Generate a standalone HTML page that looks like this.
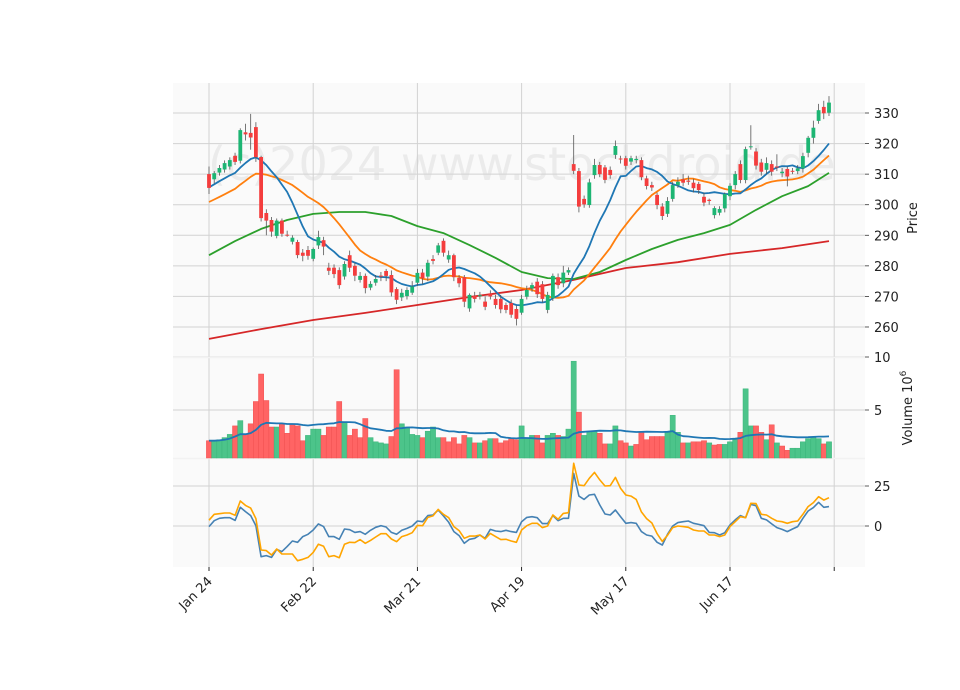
<!DOCTYPE html>
<html><head><meta charset="utf-8"><style>
body{margin:0;background:#fff}
svg{display:block;font-family:"DejaVu Sans","Liberation Sans",sans-serif}
</style></head><body>
<svg id="chart" width="960" height="690" viewBox="0 0 960 690">
<rect x="173" y="83" width="692" height="484" fill="#fafafa"/>
<text x="208" y="180" font-size="46" fill="#ebebeb">(c)2024 www.stockdroid.de</text>
<g id="grid"></g>
<g id="marks"></g>
<g id="axes"></g>
<text transform="translate(917,218) rotate(-90)" text-anchor="middle" font-size="13" fill="#222">Price</text>
<text transform="translate(912,408) rotate(-90)" text-anchor="middle" font-size="13" fill="#222">Volume  10<tspan dy="-6" font-size="9">6</tspan></text>
</svg>
<script>
const tickLabels=["Jan 24","Feb 22","Mar 21","Apr 19","May 17","Jun 17",""];
const tickIdx=[0,20,40,60,80,100,120];
const opens=[310,308.3,310.5,311.5,312.5,316,314.4,323.7,323.5,325.4,315.6,297.3,295,289.8,294.8,290.2,287.9,287.8,284.3,285.2,282.3,286.7,288.4,279.4,279.4,278.6,276.5,283.5,280,275.4,276.7,272.9,274.5,276.8,278.3,277,272.4,269.7,270.1,271.2,274.5,277.8,276.5,282.2,284.3,288.2,282.1,283.5,276.1,276.3,266.1,270.2,270.2,268.3,271,269.2,269.2,267.2,267.8,265.9,264.7,269.9,272.6,274.8,274,265.6,269.4,276.3,274.3,277.8,313.3,311,301.9,299.9,309.7,313,312.2,311.4,316.3,315.1,315.2,314.1,314.6,314.6,308.6,306.4,303.2,299.4,297,301.9,306.4,308.3,307.9,307.2,306.8,302.6,301.6,296.6,297.4,298.8,302.8,306.4,313.3,308.1,318.8,317.4,313.8,311.4,313.3,312.5,310.3,311.7,311.1,311,311.9,317,321.9,327.4,332,330.1];
const closes=[305.5,310.3,312,313.6,314.6,314,324.4,323,322,315.6,295.6,294.8,291.2,294.8,290.5,290,289.2,283.5,283.3,283.3,285.5,289.4,286.3,278.4,277.3,273.7,280.6,279.4,276.8,276.7,272.7,274.1,275.7,276.5,276.7,271.3,268.9,271.2,272.1,273.2,277.7,275.9,281,281.6,286.7,284.3,283.5,276.3,274.3,268.3,270.5,269.2,270.4,266.6,270,267.2,265.8,265.6,264,262.7,269.2,272.1,273.7,270.7,269.2,270.5,276.7,273.7,277.8,278.6,311.1,299.4,300.1,307.3,313,310,308.1,309.7,319.2,314.9,312.7,315.2,315,309,306.1,305.6,299.9,296.3,301.2,306.4,307.5,307.2,307.5,305.4,304.8,300.7,301.2,298.9,298.6,303.5,306.2,310,308.1,318.2,319.1,312.8,310.8,313.6,310.8,312.2,310.8,309.2,311,311.9,315.9,321.9,325.2,330.9,329.9,333.4];
const highs=[312.5,311,313,314.5,315.5,317,325,326.5,329.7,327,316,298.5,296,295.5,295.5,291.5,290,288.5,285.5,286.5,286,291.5,289.5,281,280.5,279.5,281.5,285,281,278,277.5,275,277,278,279,278.5,273,272.5,273,275,279,279,282,283.5,287.5,289,285,284,277,277,271,271.5,271.5,270,272,270.5,270.5,268,269,267,270.5,273.5,274.5,276,275,271.5,277.5,277.5,280,279.5,322.8,312,303,308.5,315,314,313,312.5,321,316,316,316,316,315.5,309.5,307.5,304,300.5,302.5,307.5,309,310,309.5,308.5,307.5,304,302,299.5,299.5,304,307,311,314.5,319,326,318.5,315,315.5,314.5,316.5,312,312.5,312,313,317,322.5,327.5,333,334,335.5];
const lows=[303.5,307,309.5,310.5,311.5,313,313.5,321,318,314,294.5,290,289.5,289,289.5,289.5,287,282.5,281.5,282,281.5,285.5,283.5,277,276,272.5,275.5,278,275,274.5,271,272,273.5,275,275,270,267.5,268.5,269,270.5,273.5,274,275,280.5,283.5,283,281,275,273,266.5,265,268,269,265.5,269,266,264.5,264.5,263,260.5,264,269,271.5,269.5,268,264.5,268.5,272.5,273,277,310,297.5,299,299,308.5,309,307,308.5,315,313.5,311.5,313,313.5,308,305,304.5,298.5,295,296,301,305.5,306,306.5,304,303.5,299.5,300,295.5,296.5,297.5,301.5,305,307,307,318,311.5,309.5,310,309.5,311,309,306,310,310,310.5,315.5,320,326.5,328,329];
const volumes=[2.1,2.1,2.2,2.4,2.7,3.5,4.0,2.7,3.7,5.8,8.4,5.9,3.4,3.4,3.7,2.8,3.7,3.5,2.1,2.6,3.2,3.2,2.6,3.4,3.4,5.8,3.9,2.6,3.2,2.4,4.2,2.4,2.0,1.9,1.8,2.5,8.8,3.7,3.4,2.7,2.6,2.4,3.0,3.4,2.4,2.4,2.0,2.4,1.8,2.6,2.4,1.9,1.9,2.1,2.3,2.3,1.9,2.1,2.3,2.2,3.5,2.3,2.6,2.6,1.9,2.6,2.8,2.6,2.5,3.2,9.6,4.8,2.6,3.0,3.0,2.8,1.8,1.8,3.5,2.1,1.9,1.6,1.75,2.9,2.2,2.5,2.5,2.5,2.9,4.5,2.9,1.9,1.9,2.0,2.0,2.1,1.9,1.7,1.75,1.75,2.0,2.2,2.9,7.0,3.5,3.5,2.9,2.2,3.6,1.9,1.6,1.2,1.4,1.4,2.0,2.3,2.4,2.3,1.8,2.0];
const priorCloses=[294,295,296,297,296,297,298,296,295,297,300,302,304,305,306,307,308,309,310];
const ma50Idx=[0,5,10,15,20,25,30,35,40,45,50,55,60,65,70,75,80,85,90,95,100,105,110,115,119];
const ma50Vals=[283.5,288.1,292.1,295,297,297.6,297.6,296.3,293,290.7,286.8,282.6,278,276,275.7,278,281.9,285.5,288.5,290.7,293.4,298.3,302.8,306.1,310.4];
const ma200Idx=[0,10,20,30,40,50,60,70,80,90,100,110,119];
const ma200Vals=[256.1,259.3,262.3,264.6,267.2,269.8,272.1,275.4,279.3,281.2,283.9,285.8,288.1];
const ind1=[-0.4,3.3,4.8,5.2,5.2,3.5,11.7,9,6.5,0.2,-19.2,-18.5,-19.6,-14.6,-16,-12.9,-9.4,-10.2,-6.6,-5.2,-2.5,1.3,-0.4,-6.6,-6.6,-8.3,-1.9,-2.3,-4,-3.5,-5.2,-2.7,-0.8,0.2,-0.6,-4,-5.2,-2.7,-1.5,0,3.1,2.7,6.5,6.9,10,6.3,2.3,-3.5,-6,-10.8,-8.3,-7.7,-5.6,-7.7,-2.1,-3.1,-3.5,-2.7,-3.5,-4,2.7,5.4,5.8,5.2,1.5,1.5,6.5,3.3,4.8,4.8,32.9,18.7,16.6,19.4,19.8,13.1,7.5,6.9,10,5.8,1.7,2.1,1.7,-3.5,-5.6,-6.3,-10.2,-11.9,-5.2,0,2.1,2.7,3.1,1.7,1,0.2,-4,-4.2,-5.6,-4.2,0.6,3.8,6.5,5.2,13.5,12.7,4.8,3.8,1.3,-1,-2.1,-3.5,-1.9,-0.4,4.8,9.4,11.5,14.8,11.7,12.1];
const ind2=[3.6,7.3,7.7,8.1,8.1,6.7,15.6,12.9,11.2,4.6,-15,-15.4,-18.1,-14.4,-17.5,-17.5,-17.5,-21.7,-20.8,-19.6,-16.5,-11.4,-12.7,-19.2,-18.5,-19.8,-11.4,-10.2,-10.4,-8.5,-10.8,-9,-6.9,-4.8,-4.8,-8.1,-9.8,-6.6,-5.6,-4.2,0.4,0.2,5.4,6.3,10.4,7.3,5.2,-0.4,-2.9,-7.7,-6.3,-6.3,-5.6,-8.1,-4.6,-6.6,-8.5,-8.3,-9.4,-10.2,-2.5,0.2,1.7,1.7,-1,0,6.9,4.2,7.9,8.3,39.2,25.6,25.2,29.8,33.5,28.8,25,25.2,30.4,23.5,19.4,18.7,16.6,8.8,4.6,1.9,-4.8,-9.6,-5.8,-1,0,-0.4,-0.8,-2.5,-3.1,-3.1,-5.6,-5.6,-6.6,-5.6,-0.4,2.7,5.8,5.2,14.2,14,7.3,6.9,4.8,3.1,2.7,1.7,2.7,3.1,7.3,12.1,14.6,18.3,16.2,17.7];
const priceTicks=[260,270,280,290,300,310,320,330];
const volTicks=[5,10];
const indTicks=[0,25];

const NS="http://www.w3.org/2000/svg";
const L=173,R=865;
const xOf=i=>209+i*5.21;
const yP=p=>113+(330-p)*3.057;
const yV=v=>Math.min(458,463-v*10.6);
const yI=v=>526-v*1.6;
function mk(parent,tag,attrs){const e=document.createElementNS(NS,tag);for(const k in attrs)e.setAttribute(k,attrs[k]);document.getElementById(parent).appendChild(e);return e;}
function line(parent,x1,y1,x2,y2,c,w){return mk(parent,'line',{x1,y1,x2,y2,stroke:c,'stroke-width':w});}
function poly(pts,c,w,name){const e=mk('marks','polyline',{points:pts.map(p=>p[0].toFixed(1)+','+p[1].toFixed(1)).join(' '),fill:'none',stroke:c,'stroke-width':w,'stroke-linejoin':'round'});

return e;}

// grid
const gc='#d2d2d2';
priceTicks.forEach(t=>{const g=line('grid',L,yP(t),R,yP(t),gc,1);

});
volTicks.forEach(t=>{const g=line('grid',L,yV(t),R,yV(t),gc,1);

});
indTicks.forEach(t=>{const g=line('grid',L,yI(t),R,yI(t),gc,1);

});
tickIdx.forEach(i=>{const g=line('grid',xOf(i),83,xOf(i),567,gc,1);

});
line('grid',L,357.5,R,357.5,'#f2f2f2',1.5);
line('grid',L,458.5,R,458.5,'#f2f2f2',1.5);

// volume bars
volumes.forEach((v,i)=>{const up=i===0?closes[0]>=opens[0]:closes[i]>=closes[i-1];
const y=yV(v);
const b=mk('marks','rect',{x:(xOf(i)-2.6).toFixed(1),y:y.toFixed(1),width:5.2,height:(458-y).toFixed(1),fill:up?'#4cc48a':'#ff6464',stroke:up?'#3bb57a':'#f05050','stroke-width':0.5});

});
// volume MA
const vma=volumes.map((v,i)=>{const s=volumes.slice(Math.max(0,i-19),i+1);return s.reduce((a,b)=>a+b,0)/s.length;});
poly(vma.map((v,i)=>[xOf(i),yV(v)]),'#1f77b4',1.8,'volume-ma-line');

// moving averages
const ext=priorCloses.concat(closes);
function sma(n){return closes.map((c,i)=>{const j=i+priorCloses.length;const s=ext.slice(j-n+1,j+1);return s.reduce((a,b)=>a+b,0)/s.length;});}
poly(ma200Idx.map((i,k)=>[xOf(i),yP(ma200Vals[k])]),'#d62728',1.8,'ma200-line');
poly(ma50Idx.map((i,k)=>[xOf(i),yP(ma50Vals[k])]),'#2ca02c',1.8,'ma50-line');
poly(sma(20).map((v,i)=>[xOf(i),yP(v)]),'#ff7f0e',1.8,'ma20-line');
poly(sma(10).map((v,i)=>[xOf(i),yP(v)]),'#1f77b4',1.8,'ma10-line');

// candles
closes.forEach((c,i)=>{const o=opens[i];const up=c>=o;const x=xOf(i);
const w=line('marks',x,yP(highs[i]),x,yP(lows[i]),'#555',0.8);


const top=yP(Math.max(o,c)),bot=yP(Math.min(o,c));
const b=mk('marks','rect',{x:(x-1.9).toFixed(1),y:top.toFixed(1),width:3.8,height:Math.max(1,bot-top).toFixed(1),fill:up?'#1db573':'#f43d3d'});

});

// indicator
poly(ind1.map((v,i)=>[xOf(i),yI(v)]),'#4682b4',1.6,'indicator-line-blue');
poly(ind2.map((v,i)=>[xOf(i),yI(v)]),'#ffa500',1.6,'indicator-line-orange');

// axes ticks and labels
function lab(x,y,t,name,anchor){const e=mk('axes','text',{x,y,'font-size':13,fill:'#222','text-anchor':anchor||'start'});e.textContent=t;

return e;}
priceTicks.forEach(t=>{line('axes',R,yP(t),R+4,yP(t),'#333',0.8);lab(874,yP(t)+5,String(t),'price-tick-label');});
volTicks.forEach(t=>{line('axes',R,yV(t),R+4,yV(t),'#333',0.8);lab(874,yV(t)+5,String(t),'volume-tick-label');});
indTicks.forEach(t=>{line('axes',R,yI(t),R+4,yI(t),'#333',0.8);lab(874,yI(t)+5,String(t),'indicator-tick-label');});
tickIdx.forEach((i,k)=>{const x=xOf(i);line('axes',x,567,x,571,'#111',0.9);
if(tickLabels[k]){const e=lab(x+4,582,tickLabels[k],'x-tick-label','end');e.setAttribute('transform','rotate(-45 '+(x+4)+' 582)');}});
</script>
</body></html>
